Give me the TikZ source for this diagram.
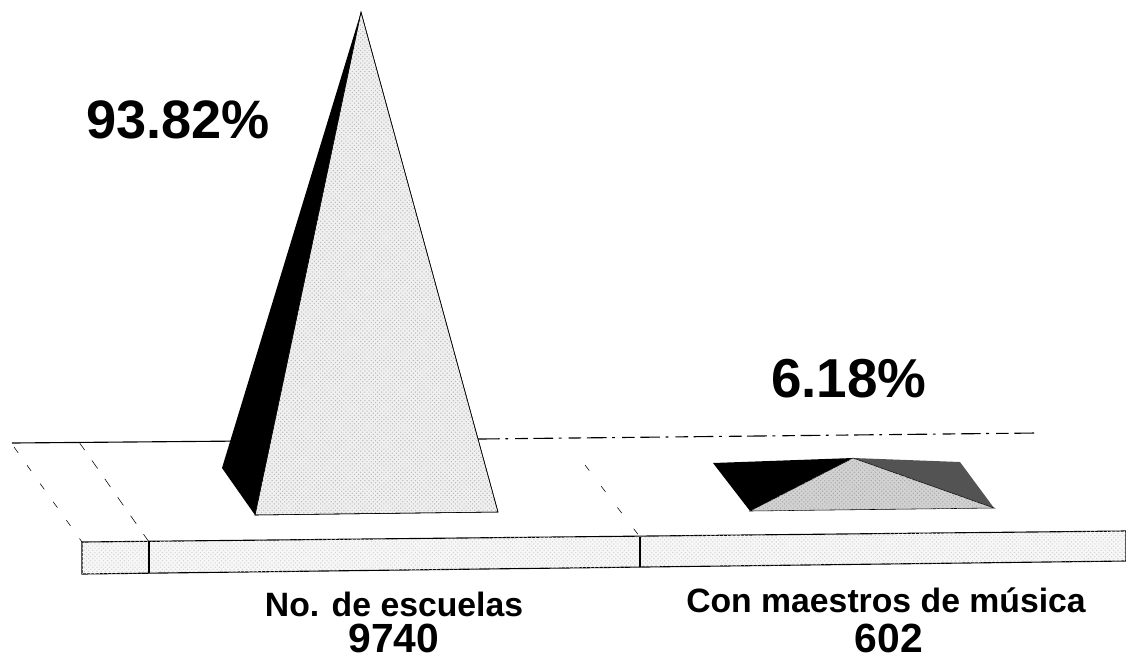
\documentclass[tikz,border=0pt]{standalone}
\usepackage{fontspec}
\setmainfont{Liberation Sans}
\usetikzlibrary{patterns}

\begin{document}
\begin{tikzpicture}[x=0.025cm, y=-0.025cm, every node/.style={font=\bfseries, inner sep=0pt}]
    \useasboundingbox (0,0) rectangle (1126,660);
    % Corner Points
    \coordinate (Apex) at (361,12);
    \coordinate (BackL) at (222,468);
    \coordinate (FrontL) at (255,515);
    \coordinate (FrontR) at (498,512);
    \coordinate (apex) at (853,458);
    \coordinate (backl) at (713,463);
    \coordinate (backr) at (960,462);
    \coordinate (frontl) at (750,511);
    \coordinate (frontr) at (994,508);

    % Back line of the floor
    \draw[thick] (12,443) -- (480,439);
    \draw[thick, dash pattern=on 14pt off 4pt on 2pt off 5pt on 9pt off 4pt] (480,439) -- (1037,433);

    % Floor edges (dashed)
    \draw[dash pattern=on 5pt off 11pt] (14,447) -- (82,542);
    \draw[dash pattern=on 7pt off 9pt] (79,442) -- (149,542);
    \draw[dash pattern=on 5pt off 14pt] (585,465) -- (640,537);

    % Base slab
    \draw[thick, fill=gray!6] (82,542) -- (1126,531) -- (1126,561) -- (82,574) -- cycle;
    \fill[pattern=crosshatch dots, pattern color=gray!35] (82,542) -- (1126,531) -- (1126,561) -- (82,574) -- cycle;
    \draw[thick] (149,541) -- (149,573);
    \draw[thick] (640,537) -- (640,567);

    % Tall pyramid
    \fill[black] (Apex) -- (BackL) -- (FrontL) -- cycle;
    \draw[fill=gray!12] (Apex) -- (FrontL) -- (FrontR) -- cycle;
    \fill[pattern=crosshatch dots, pattern color=gray!55] (Apex) -- (FrontL) -- (FrontR) -- cycle;
    \draw (Apex) -- (FrontL) -- (FrontR) -- cycle;

    % Flat pyramid
    \fill[black] (backl) -- (apex) -- (frontl) -- cycle;
    \fill[gray!65!black] (apex) -- (backr) -- (frontr) -- cycle;
    \draw[fill=gray!35] (apex) -- (frontl) -- (frontr) -- cycle;
    \fill[pattern=crosshatch dots, pattern color=gray!70] (apex) -- (frontl) -- (frontr) -- cycle;

    % Percentages
    \node[draw=none, anchor=base, font=\fontsize{38.5}{40}\bfseries] (pctA) at (178,138) {93.82\%};
    \node[draw=none, anchor=base, font=\fontsize{39}{40}\bfseries] (pctB) at (849,397) {6.18\%};

    % Category labels
    \node[draw=none, anchor=base, font=\fontsize{24}{26}\bfseries] (catA) at (394,616) {No. de escuelas};
    \node[draw=none, anchor=base, font=\fontsize{29}{30}\bfseries] (valA) at (394,652) {9740};
    \node[draw=none, anchor=base, font=\fontsize{24}{26}\bfseries] (catB) at (886,612) {Con maestros de música};
    \node[draw=none, anchor=base, font=\fontsize{29}{30}\bfseries] (valB) at (889,652) {602};
\end{tikzpicture}
\end{document}
